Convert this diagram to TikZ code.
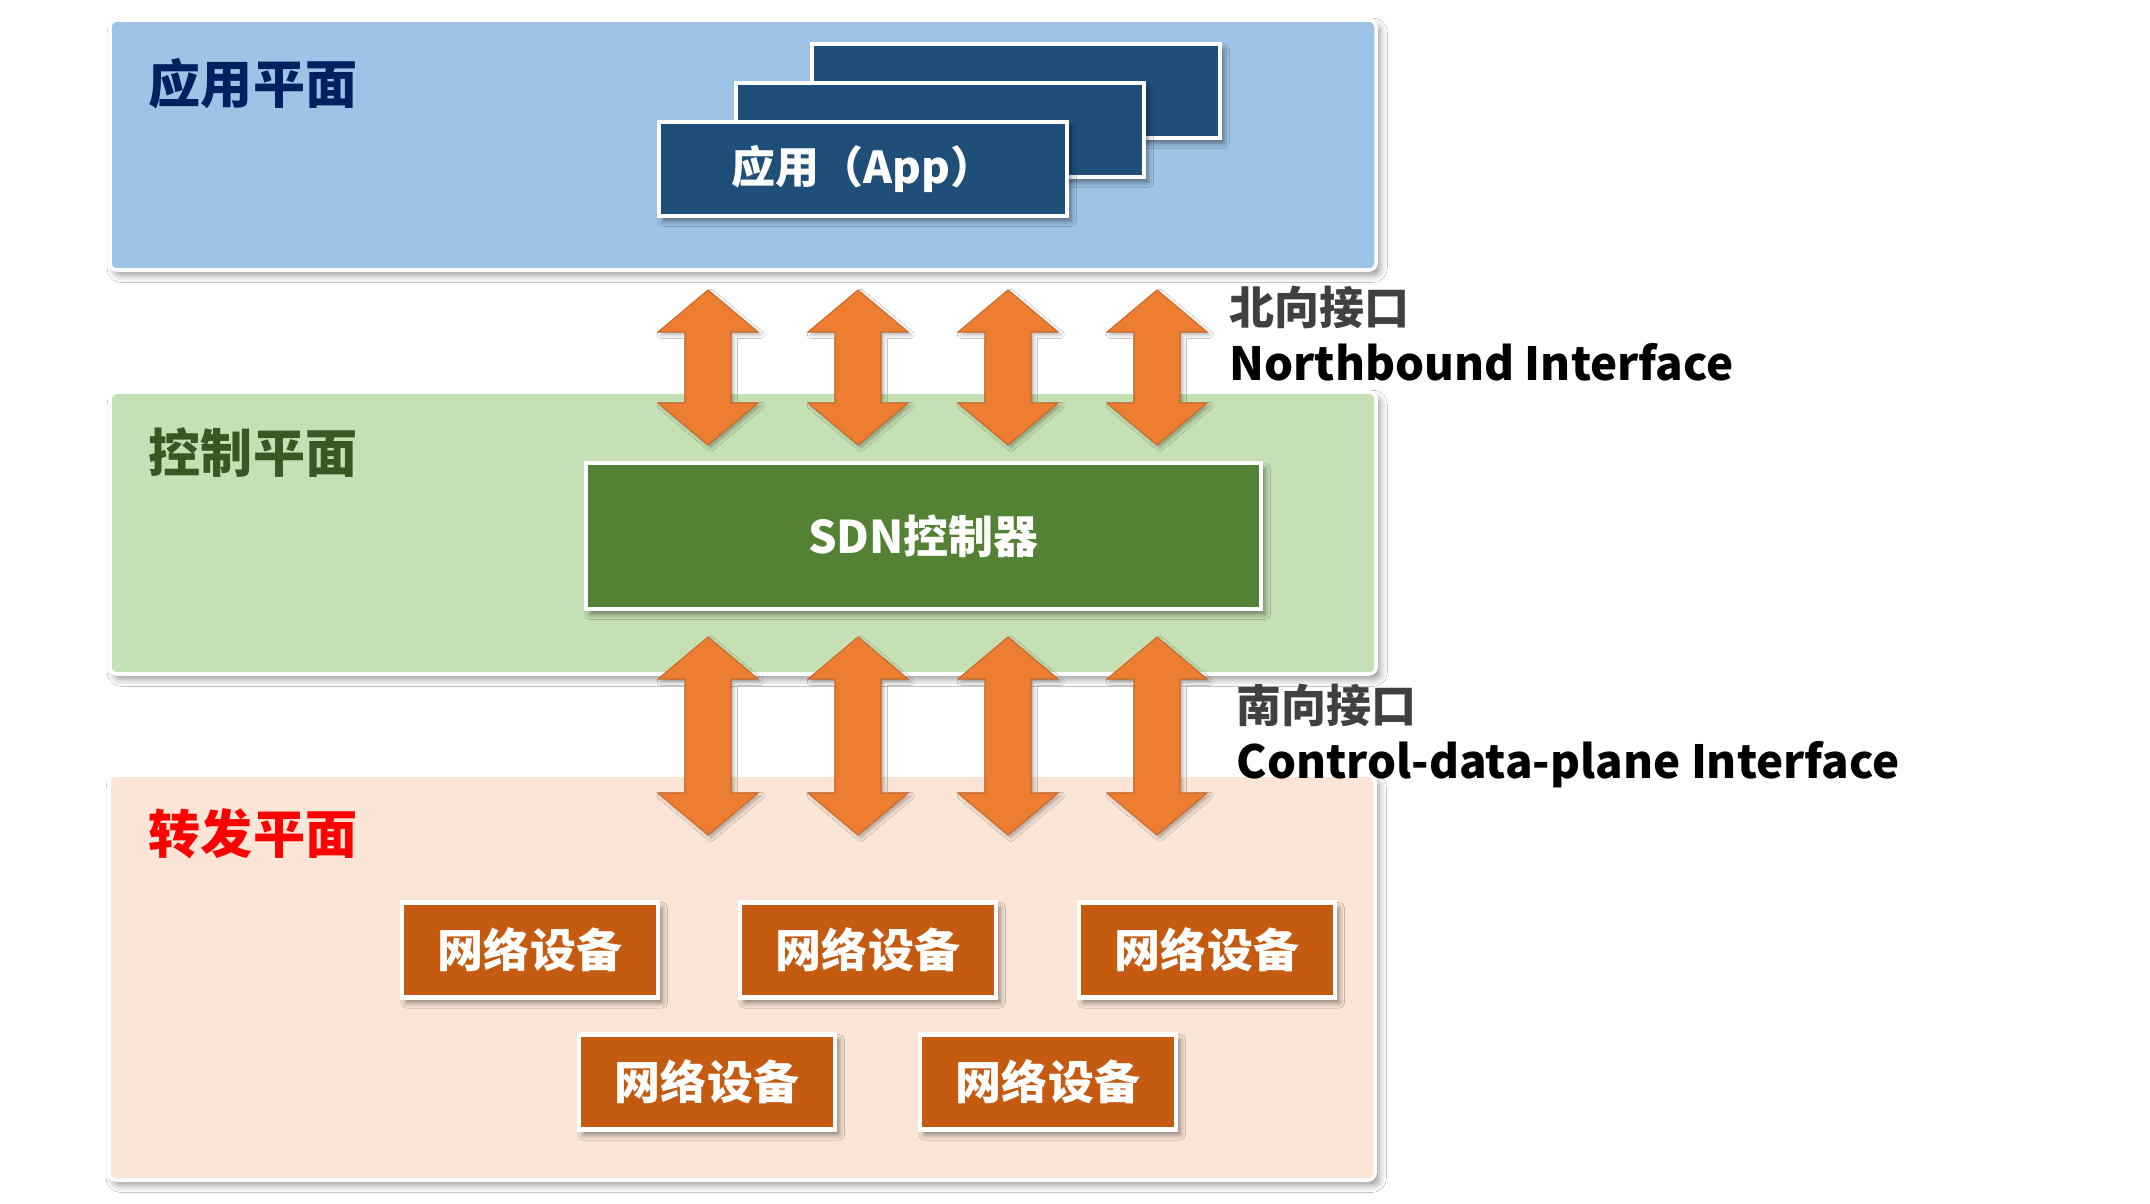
\documentclass[tikz,border=0pt]{standalone}
\usepackage{fontspec}
\setmainfont{Noto Sans CJK SC}
\usepackage{tikz}
\usetikzlibrary{
    positioning,
    shadows.blur
}
\definecolor{appBlue}{RGB}{157, 195, 230}
\definecolor{appDark}{RGB}{31, 78, 121}
\definecolor{ctrlGreen}{RGB}{197, 224, 180}
\definecolor{ctrlDark}{RGB}{84, 130, 53}
\definecolor{fwdPeach}{RGB}{251, 229, 214}
\definecolor{devOrange}{RGB}{197, 90, 17}
\definecolor{arrowOrange}{RGB}{237, 125, 49}
\definecolor{labelNavy}{RGB}{0, 32, 96}
\definecolor{labelGreen}{RGB}{56, 87, 35}
\definecolor{labelGray}{RGB}{64, 64, 64}

\tikzset{
    planeBox/.style={draw=white, line width=1pt, rounded corners=2pt,
        minimum width=12.66cm, inner sep=0pt,
        blur shadow={shadow xshift=1.2pt, shadow yshift=-1.5pt, shadow blur radius=2pt, shadow opacity=40}},
    planeLabel/.style={font=\bfseries\fontsize{14.8}{16}\selectfont, inner sep=0pt},
    innerBox/.style={draw=white, line width=1.3pt, inner sep=0pt, text=white,
        blur shadow={shadow xshift=1.2pt, shadow yshift=-1.5pt, shadow blur radius=1.5pt, shadow opacity=45}},
    appBox/.style={innerBox, fill=appDark, minimum width=4.08cm, minimum height=0.94cm,
        font=\bfseries\fontsize{12.5}{14}\selectfont},
    devBox/.style={innerBox, fill=devOrange, minimum width=2.56cm, minimum height=0.95cm,
        font=\bfseries\fontsize{13.1}{15}\selectfont},
    ifLabel/.style={font=\bfseries\fontsize{12.8}{14}\selectfont, inner sep=0pt, anchor=base west},
    ifText/.style={ifLabel, font=\bfseries\fontsize{13.0}{14}\selectfont},
    biArrow/.style={fill=arrowOrange, draw=arrowOrange!85!black, line width=0.3pt,
        blur shadow={shadow xshift=0.8pt, shadow yshift=-0.8pt, shadow blur radius=1pt, shadow opacity=30}}
}

\begin{document}
\begin{tikzpicture}[x=1cm, y=-1cm]
    \useasboundingbox (0,0) rectangle (21.5,12.04);
    \fill[white] (0,0) rectangle (21.5,12.04);

    % the three planes
    \node[planeBox, fill=appBlue, minimum height=2.50cm] (appPlane) at (7.43,1.45) {};
    \node[planeBox, fill=ctrlGreen, minimum height=2.82cm] (ctrlPlane) at (7.43,5.33) {};
    \node[planeBox, fill=fwdPeach, minimum height=4.05cm] (fwdPlane) at (7.42,9.775) {};

    \node[planeLabel, text=labelNavy] (appLabel) at (2.53,0.84) {应用平面};
    \node[planeLabel, text=labelGreen] (ctrlLabel) at (2.53,4.53) {控制平面};
    \node[planeLabel, text=red] (fwdLabel) at (2.53,8.34) {转发平面};

    % stacked applications
    \node[appBox] (appBack) at (10.16,0.91) {};
    \node[appBox] (appMid) at (9.40,1.30) {};
    \node[appBox] (appFront) at (8.63,1.69) {应用（App）};

    % controller
    \node[innerBox, fill=ctrlDark, minimum width=6.75cm, minimum height=1.46cm,
        font=\bfseries\fontsize{12.8}{14}\selectfont] (sdnCtrl) at (9.235,5.36) {SDN控制器};

    % forwarding devices
    \node[devBox] (devA) at (5.30,9.50) {网络设备};
    \node[devBox] (devB) at (8.68,9.50) {网络设备};
    \node[devBox] (devC) at (12.07,9.50) {网络设备};
    \node[devBox] (devD) at (7.07,10.82) {网络设备};
    \node[devBox] (devE) at (10.48,10.82) {网络设备};

    % interface arrows
    \foreach \ax in {7.08, 8.58, 10.08, 11.57} {
        \path[biArrow] (\ax,2.90) -- (\ax+0.50,3.32) -- (\ax+0.23,3.32) -- (\ax+0.23,4.03)
            -- (\ax+0.50,4.03) -- (\ax,4.45) -- (\ax-0.50,4.03) -- (\ax-0.23,4.03)
            -- (\ax-0.23,3.32) -- (\ax-0.50,3.32) -- cycle;
        \path[biArrow] (\ax,6.37) -- (\ax+0.50,6.79) -- (\ax+0.23,6.79) -- (\ax+0.23,7.93)
            -- (\ax+0.50,7.93) -- (\ax,8.35) -- (\ax-0.50,7.93) -- (\ax-0.23,7.93)
            -- (\ax-0.23,6.79) -- (\ax-0.50,6.79) -- cycle;
    }

    \node[ifLabel, text=labelGray] (northCn) at (12.29,3.25) {北向接口};
    \node[ifText] (northEn) at (12.29,3.80) {Northbound Interface};
    \node[ifLabel, text=labelGray] (southCn) at (12.36,7.22) {南向接口};
    \node[ifText] (southEn) at (12.36,7.78) {Control-data-plane Interface};
\end{tikzpicture}
\end{document}
